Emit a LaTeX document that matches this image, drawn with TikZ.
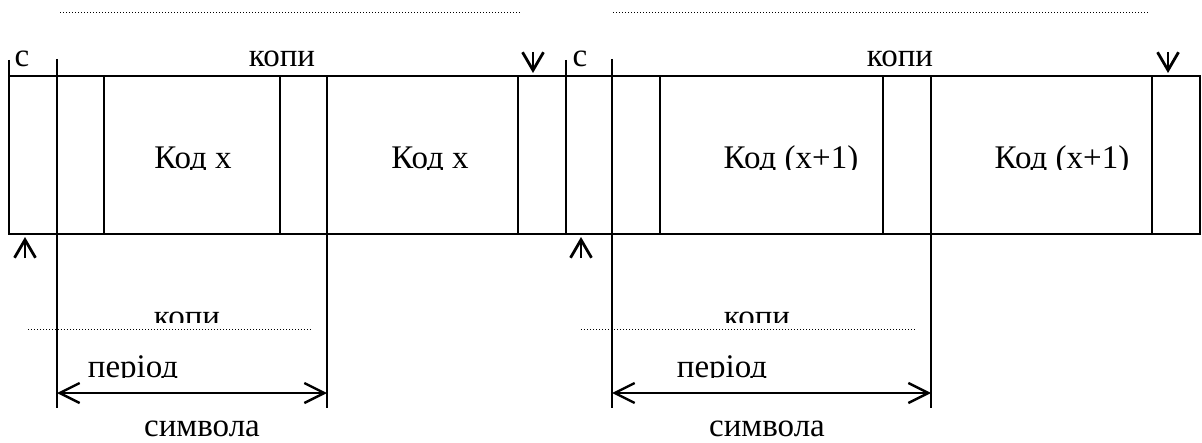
\documentclass[tikz,border=0pt]{standalone}
\usepackage{fontspec}
\setmainfont{Liberation Serif}
\usetikzlibrary{arrows.meta,positioning,calc}
\definecolor{ink}{HTML}{000000}

\begin{document}
\begin{tikzpicture}[x=0.5pt,y=-0.5pt,
  frame/.style={ink,line width=0.85pt},
  dots/.style={ink,line width=0.5pt,dash pattern=on 0.5pt off 1pt},
  lbl/.style={font=\fontsize{16.5}{19}\selectfont,inner sep=0pt,anchor=base},
  pointer/.style={ink,line width=1.4pt,-{Straight Barb[length=9pt,width=10.5pt]}},
  span/.style={ink,line width=1.2pt,{Straight Barb[length=10pt,width=10pt]}-{Straight Barb[length=10pt,width=10pt]}}]
  \useasboundingbox (0,0) rectangle (1202,443);
  % frame of the two code words
  \draw[frame] (9,76) rectangle (1200,234);
  \foreach \x in {104,280,518,660,883,1152} {
    \draw[frame] (\x,76) -- (\x,234);
  }
  \foreach \x in {9,566} {
    \draw[frame] (\x,60) -- (\x,234);
  }
  \foreach \x in {57,612} {
    \draw[frame] (\x,59) -- (\x,408);
  }
  \foreach \x in {327,931} {
    \draw[frame] (\x,76) -- (\x,408);
  }
  % dotted rules
  \draw[dots] (60,13) -- (520,13);
  \draw[dots] (613,13) -- (1150,13);
  \draw[dots] (28,329) -- (312,329);
  \draw[dots] (581,329) -- (915,329);
  % labels above
  \node[lbl] (s1) at (22,67) {с};
  \node[lbl] (s2) at (580,67) {с};
  \node[lbl] (kopi1) at (282,67) {копи};
  \node[lbl] (kopi2) at (900,67) {копи};
  % codes, cut at the baseline
  \begin{scope}
    \clip (0,80) rectangle (1202,169.5);
    \node[lbl] (code1) at (193,169) {Код x};
    \node[lbl] (code2) at (430,169) {Код x};
    \node[lbl] (code3) at (791,169) {Код (x+1)};
    \node[lbl] (code4) at (1062,169) {Код (x+1)};
  \end{scope}
  \begin{scope}
    \clip (0,290) rectangle (1202,322);
    \node[lbl] (kopi3) at (187,327) {копи};
    \node[lbl] (kopi4) at (757,327) {копи};
  \end{scope}
  \begin{scope}
    \clip (0,340) rectangle (1202,377.5);
    \node[lbl] (per1) at (133,377) {період};
    \node[lbl] (per2) at (722,377) {період};
  \end{scope}
  \node[lbl] (sym1) at (202,436) {символа};
  \node[lbl] (sym2) at (767,436) {символа};
  % start and end marks
  \coordinate (d1a) at (533,52);  \coordinate (d1b) at (533,73);
  \coordinate (d2a) at (1168,52); \coordinate (d2b) at (1168,73);
  \coordinate (u1a) at (25,258);  \coordinate (u1b) at (25,237);
  \coordinate (u2a) at (581,258); \coordinate (u2b) at (581,237);
  \draw[pointer] (d1a) -- (d1b);
  \draw[pointer] (d2a) -- (d2b);
  \draw[pointer] (u1a) -- (u1b);
  \draw[pointer] (u2a) -- (u2b);
  % symbol period
  \coordinate (p1a) at (57,393);  \coordinate (p1b) at (327,393);
  \coordinate (p2a) at (612,393); \coordinate (p2b) at (931,393);
  \draw[span] (p1a) -- (p1b);
  \draw[span] (p2a) -- (p2b);
\end{tikzpicture}
\end{document}
